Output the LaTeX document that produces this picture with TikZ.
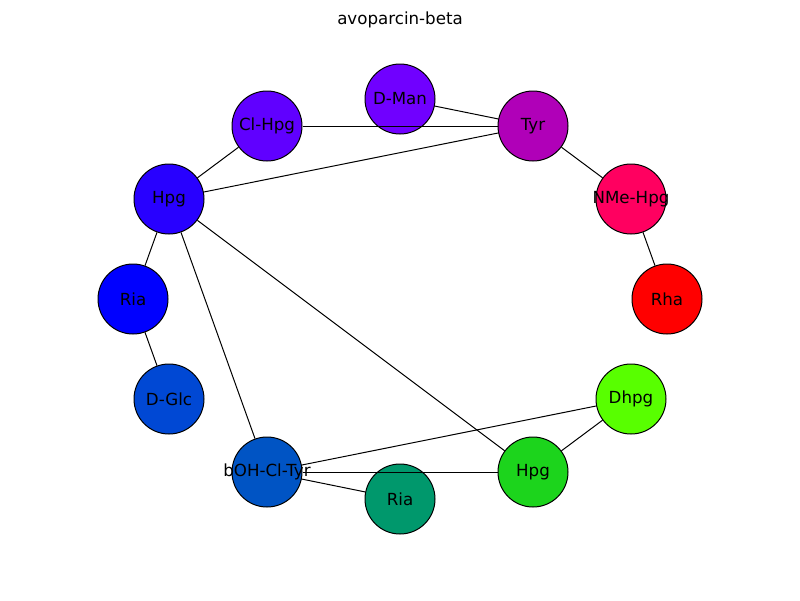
\documentclass[tikz,border=0pt]{standalone}
\usepackage{fontspec}
\setmainfont{DejaVu Sans}
\definecolor{cRha}{HTML}{FF0000}
\definecolor{cNMe}{HTML}{FF0060}
\definecolor{cTyr}{HTML}{B000B8}
\definecolor{cDMan}{HTML}{7000FF}
\definecolor{cClHpg}{HTML}{6000FF}
\definecolor{cHpgA}{HTML}{2800FF}
\definecolor{cRiaA}{HTML}{0000FF}
\definecolor{cDGlc}{HTML}{0048D4}
\definecolor{cbOH}{HTML}{0054C4}
\definecolor{cRiaB}{HTML}{00986C}
\definecolor{cHpgB}{HTML}{1CD41C}
\definecolor{cDhpg}{HTML}{58FF00}
\tikzset{
  vtx/.style={circle, draw=black, line width=0.72pt, inner sep=0pt, minimum size=50.4pt, fill=#1},
  lbl/.style={font=\fontsize{12pt}{14pt}\selectfont, inner sep=0pt},
  edge/.style={draw=black, line width=0.72pt}
}
\begin{document}
\begin{tikzpicture}[x=0.72pt, y=-0.72pt]
\useasboundingbox (0,0) rectangle (800,600);
\node[lbl] (title) at (400,20) {avoparcin-beta};
\node[vtx=cRha] (rha) at (667,299) {};
\node[vtx=cNMe] (nme) at (631,199) {};
\node[vtx=cTyr] (tyr) at (533,126) {};
\node[vtx=cDMan] (dman) at (400,99) {};
\node[vtx=cClHpg] (clhpg) at (267,126) {};
\node[vtx=cHpgA] (hpga) at (169,199) {};
\node[vtx=cRiaA] (riaa) at (133,299) {};
\node[vtx=cDGlc] (dglc) at (169,399) {};
\node[vtx=cbOH] (boh) at (267,472) {};
\node[vtx=cRiaB] (riab) at (400,499) {};
\node[vtx=cHpgB] (hpgb) at (533,472) {};
\node[vtx=cDhpg] (dhpg) at (631,399) {};
\begin{scope}[on background layer/.style={}]
\end{scope}
\draw[edge] (dman) -- (tyr);
\draw[edge] (clhpg) -- (tyr);
\draw[edge] (clhpg) -- (hpga);
\draw[edge] (hpga) -- (tyr);
\draw[edge] (tyr) -- (nme);
\draw[edge] (nme) -- (rha);
\draw[edge] (hpga) -- (riaa);
\draw[edge] (riaa) -- (dglc);
\draw[edge] (hpga) -- (boh);
\draw[edge] (hpga) -- (hpgb);
\draw[edge] (boh) -- (dhpg);
\draw[edge] (boh) -- (hpgb);
\draw[edge] (boh) -- (riab);
\draw[edge] (dhpg) -- (hpgb);
\node[lbl] (trha) at (rha) {Rha};
\node[lbl] (tnme) at (nme) {NMe-Hpg};
\node[lbl] (ttyr) at (tyr) {Tyr};
\node[lbl] (tdman) at (dman) {D-Man};
\node[lbl] (tclhpg) at (clhpg) {Cl-Hpg};
\node[lbl] (thpga) at (hpga) {Hpg};
\node[lbl] (triaa) at (riaa) {Ria};
\node[lbl] (tdglc) at (dglc) {D-Glc};
\node[lbl] (tboh) at (boh) {bOH-Cl-Tyr};
\node[lbl] (triab) at (riab) {Ria};
\node[lbl] (thpgb) at (hpgb) {Hpg};
\node[lbl] (tdhpg) at (dhpg) {Dhpg};
\end{tikzpicture}
\end{document}
